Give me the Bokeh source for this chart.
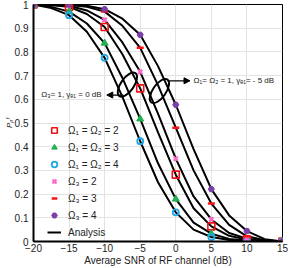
import math
from bokeh.plotting import figure
from bokeh.models import (Legend, LegendItem, FixedTicker, Label, Arrow, NormalHead)
from bokeh.embed import file_html
from bokeh.resources import INLINE

# ---- data ----
x_curve = [-20, -17.5, -15, -12.5, -10, -7.5, -5, -2.5, 0, 2.5, 5, 7.5, 10, 12.5, 15]
curve_o12_2 = [1.0, 0.997, 0.99, 0.96, 0.905, 0.79, 0.646, 0.46, 0.282, 0.14, 0.064, 0.024, 0.008, 0.002, 0.0]
curve_o12_3 = [1.0, 0.99, 0.97, 0.92, 0.837, 0.69, 0.517, 0.33, 0.179, 0.08, 0.033, 0.011, 0.004, 0.001, 0.0]
curve_o12_4 = [1.0, 0.985, 0.955, 0.885, 0.775, 0.61, 0.423, 0.25, 0.123, 0.05, 0.019, 0.006, 0.002, 0.0005, 0.0]
curve_o3_2 = [1.0, 0.999, 0.995, 0.975, 0.935, 0.84, 0.716, 0.54, 0.35, 0.19, 0.093, 0.036, 0.012, 0.003, 0.0]
curve_o3_3 = [1.0, 1.0, 0.998, 0.99, 0.97, 0.91, 0.817, 0.66, 0.48, 0.30, 0.16, 0.07, 0.022, 0.005, 0.0]
curve_o3_4 = [1.0, 1.0, 1.0, 0.995, 0.98, 0.94, 0.872, 0.74, 0.577, 0.39, 0.221, 0.11, 0.044, 0.01, 0.0]

x_pts = [-20, -15, -10, -5, 0, 5, 10, 15]
sim_o12_2 = [1.0, 0.99, 0.905, 0.646, 0.282, 0.064, 0.008, 0.0]
sim_o12_3 = [1.0, 0.97, 0.837, 0.517, 0.179, 0.033, 0.004, 0.0]
sim_o12_4 = [1.0, 0.955, 0.775, 0.423, 0.123, 0.019, 0.002, 0.0]
sim_o3_2 = [1.0, 0.995, 0.935, 0.716, 0.35, 0.093, 0.012, 0.0]
sim_o3_3 = [1.0, 0.998, 0.97, 0.817, 0.48, 0.16, 0.022, 0.0]
sim_o3_4 = [1.0, 1.0, 0.98, 0.872, 0.577, 0.221, 0.044, 0.0]

legend_labels = ["Ω₁ = Ω₂ = 2", "Ω₁ = Ω₂ = 3", "Ω₁ = Ω₂ = 4",
                 "Ω₃ = 2", "Ω₃ = 3", "Ω₃ = 4", "Analysis"]
x_ticks = [-20, -15, -10, -5, 0, 5, 10, 15]
y_ticks = [0, 0.1, 0.2, 0.3, 0.4, 0.5, 0.6, 0.7, 0.8, 0.9, 1.0]
y_tick_labels = ["0", "0.1", "0.2", "0.3", "0.4", "0.5", "0.6", "0.7", "0.8", "0.9", "1"]
x_title = "Average SNR of RF channel (dB)"
y_title = "Pₚᶠ"

FONT = "Liberation Sans"

p = figure(width=291, height=268, x_range=(-20, 15), y_range=(0, 1),
           output_backend="svg", toolbar_location=None,
           min_border_left=33, min_border_right=9, min_border_top=4, min_border_bottom=24)
p.background_fill_color = "white"
p.border_fill_color = "white"
p.outline_line_color = "black"
p.outline_line_width = 1

p.xgrid.grid_line_color = "#e3e3e3"
p.ygrid.grid_line_color = "#e3e3e3"
p.xaxis.ticker = FixedTicker(ticks=x_ticks)
p.yaxis.ticker = FixedTicker(ticks=y_ticks)
p.yaxis.major_label_overrides = {t: l for t, l in zip(y_ticks, y_tick_labels)}
for ax in (p.xaxis[0], p.yaxis[0]):
    ax.axis_line_color = "black"
    ax.axis_line_width = 2
    ax.major_tick_line_color = None
    ax.minor_tick_line_color = None
    ax.major_tick_out = 0
    ax.major_tick_in = 0
    ax.minor_tick_out = 0
    ax.minor_tick_in = 0
    ax.major_label_text_font = FONT
    ax.major_label_text_font_size = "10px"
    ax.major_label_text_color = "#222222"
    ax.axis_label_text_font = FONT
    ax.axis_label_text_color = "#222222"
p.xaxis.major_label_standoff = 2
p.yaxis.major_label_standoff = 5
p.xaxis.axis_label = x_title
p.xaxis.axis_label_text_font_size = "10px"
p.xaxis.axis_label_text_font_style = "normal"
p.xaxis.axis_label_standoff = 0
p.yaxis.axis_label = y_title
p.yaxis.axis_label_text_font_size = "8px"
p.yaxis.axis_label_text_font_style = "italic"
p.yaxis.axis_label_standoff = -2

# analysis curves
line_r = None
for c in (curve_o12_2, curve_o12_3, curve_o12_4, curve_o3_2, curve_o3_3, curve_o3_4):
    line_r = p.line(x_curve, c, line_color="black", line_width=2)

# simulation markers
r_sq = p.scatter(x_pts, sim_o12_2, marker="square", size=7, fill_color=None,
                 line_color="#ee1111", line_width=1.6)
r_tri = p.scatter(x_pts, sim_o12_3, marker="triangle", size=7, fill_color="#22b050",
                  line_color="#22b050", line_width=1)
r_cir = p.scatter(x_pts, sim_o12_4, marker="circle", size=6, fill_color=None,
                  line_color="#1ea6e6", line_width=1.8)
r_x = p.scatter(x_pts, sim_o3_2, marker="x", size=6, line_color="#ff66cc", line_width=2.2)
r_dash = p.scatter(x_pts, sim_o3_3, marker="dash", size=7, line_color="#ff1010", line_width=2.5)
r_hex = p.scatter(x_pts, sim_o3_4, marker="hex", size=6, fill_color="#7a3fa6",
                  line_color="#7a3fa6", line_width=1)

# ellipses and annotations
p.ellipse(x=[-6.8, -2.3], y=[0.662, 0.635], width=28, height=13,
          width_units="screen", height_units="screen", angle=math.radians(55),
          fill_color=None, line_color="black", line_width=2)

p.add_layout(Arrow(end=NormalHead(size=6, fill_color="black", line_color="black"),
                   x_start=-7.35, y_start=0.618, x_end=-9.7, y_end=0.618,
                   line_color="black", line_width=1.2))
p.add_layout(Arrow(end=NormalHead(size=6, fill_color="black", line_color="black"),
                   x_start=-1.2, y_start=0.678, x_end=2.0, y_end=0.678,
                   line_color="black", line_width=1.2))
p.add_layout(Label(x=-18.9, y=0.622, text="Ω₃= 1, γₑ₁ = 0 dB", text_font=FONT,
                   text_font_size="8px", text_baseline="middle", text_align="left",
                   text_color="#222222"))
p.add_layout(Label(x=2.5, y=0.678, text="Ω₁= Ω₂ = 1, γₑ₁= - 5 dB", text_font=FONT,
                   text_font_size="8px", text_baseline="middle", text_align="left",
                   text_color="#222222"))

renderers = [r_sq, r_tri, r_cir, r_x, r_dash, r_hex, line_r]
items = [LegendItem(label=l, renderers=[r]) for l, r in zip(legend_labels, renderers)]
legend = Legend(items=items, location=(14, 2), padding=0, margin=0, spacing=3,
                glyph_width=14, glyph_height=14, label_height=14, label_standoff=7,
                label_text_font=FONT, label_text_font_size="10px",
                label_text_color="#222222",
                background_fill_alpha=0, border_line_alpha=0)
p.add_layout(legend)

open("out.html", "w").write(file_html(p, INLINE))
